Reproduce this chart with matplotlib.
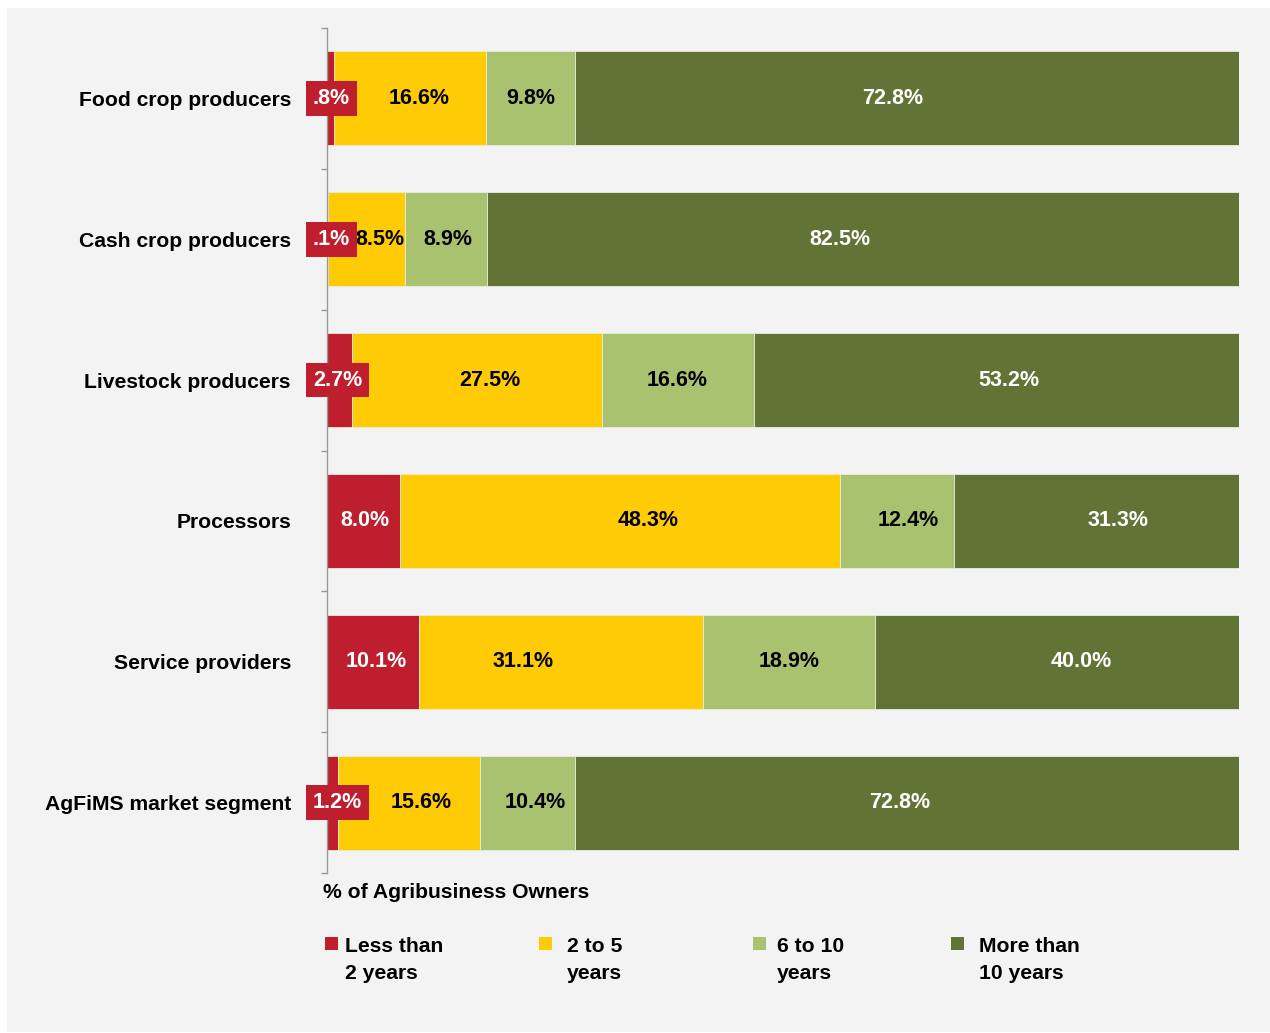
import matplotlib
matplotlib.use("Agg")
import matplotlib.pyplot as plt
from matplotlib.patches import Rectangle
import numpy as np

plt.rcParams['font.family'] = ['Liberation Sans', 'DejaVu Sans']
plt.rcParams['font.weight'] = 'bold'

# survey data: years in business, % of agribusiness owners
segments = ["Food crop producers", "Cash crop producers", "Livestock producers",
            "Processors", "Service providers", "AgFiMS market segment"]
less_2 = [0.8, 0.1, 2.7, 8.0, 10.1, 1.2]
y2_5 = [16.6, 8.5, 27.5, 48.3, 31.1, 15.6]
y6_10 = [9.8, 8.9, 16.6, 12.4, 18.9, 10.4]
more_10 = [72.8, 82.5, 53.2, 31.3, 40.0, 72.8]
series_labels = ["Less than\n2 years", "2 to 5\nyears", "6 to 10\nyears", "More than\n10 years"]

# hand nudges for the value labels (in % units), one row per segment
nudge_less_2 = [0, 0, 0, 0.2, 0.4, 0]
nudge_2_5 = [1.0, 1.4, 1.4, 3.1, -4.1, 1.3]
nudge_6_10 = [0, 0.2, -0.1, 1.2, 0, 0.8]
nudge_more_10 = [-1.6, -2.5, 1.4, 2.4, 2.6, -0.8]

colors = ["#be1e2d", "#ffcb05", "#a9c26f", "#627435"]
text_colors = ["white", "black", "black", "white"]
fs_val = 15.5
fs_cat = 15.2

fig = plt.figure(figsize=(12.7, 10.33), dpi=100, facecolor="white")
W, H = 1270, 1033
fig.patches.append(Rectangle((7 / W, 1 - 1032 / H), (W - 7) / W, (1032 - 8) / H,
                             transform=fig.transFigure, facecolor="#f2f3f2",
                             edgecolor="none", zorder=-10))

ax = fig.add_axes([327 / W, 1 - 873 / H, (1239 - 327) / W, (873 - 28) / H])
ax.set_facecolor("none")

y = np.arange(len(segments))
left = np.zeros(len(segments))
all_series = [less_2, y2_5, y6_10, more_10]
all_nudges = [nudge_less_2, nudge_2_5, nudge_6_10, nudge_more_10]
for vals, nudges, c, tc in zip(all_series, all_nudges, colors, text_colors):
    vals = np.array(vals)
    ax.barh(y, vals, left=left, height=0.667, color=c, edgecolor="#e8ecdf",
            linewidth=0.6)
    for yi, v, l, dx in zip(y, vals, left, nudges):
        txt = f"{v:.1f}%"
        if c == colors[0] and v < 5:
            # small shares get a boxed label sitting on the axis
            if v < 1:
                txt = txt[1:]
            ax.text(-1.55, yi, txt, ha="left", va="center", color="white",
                    fontsize=fs_val, fontweight="bold", zorder=5,
                    bbox=dict(boxstyle="square,pad=0.32", facecolor=c, edgecolor="none"))
        else:
            ax.text(l + v / 2 + dx, yi, txt, ha="center", va="center", color=tc,
                    fontsize=fs_val, fontweight="bold")
    left = left + vals

ax.set_xlim(0, 100)
ax.set_ylim(len(segments) - 0.5, -0.5)
ax.set_yticks(y)
ax.set_yticklabels(segments, fontsize=fs_cat, fontweight="bold")
ax.tick_params(axis="y", which="major", length=0, pad=26)
ax.set_yticks(np.arange(-0.5, len(segments)), minor=True)
ax.tick_params(axis="y", which="minor", length=4, color="#999999", width=1)
ax.set_xticks([])
for s in ["top", "right", "bottom"]:
    ax.spines[s].set_visible(False)
ax.spines["left"].set_color("#999999")
ax.spines["left"].set_linewidth(1)

fig.text(323 / W, 1 - 893 / H, "% of Agribusiness Owners", ha="left", va="center",
         fontsize=fs_cat, fontweight="bold")

# legend laid out in four columns below the axis
leg_box_x = [325, 539, 753, 951]
leg_text_x = [345, 567, 777, 979]
for xb, xt, c, lab in zip(leg_box_x, leg_text_x, colors, series_labels):
    fig.patches.append(Rectangle((xb / W, 1 - 950 / H), 13 / W, 13 / H,
                                 transform=fig.transFigure, facecolor=c, edgecolor="none"))
    fig.text(xt / W, 1 - 937 / H, lab, ha="left", va="top", fontsize=fs_cat,
             fontweight="bold", linespacing=1.55)

fig.savefig("out.png", dpi=100, facecolor="white")
